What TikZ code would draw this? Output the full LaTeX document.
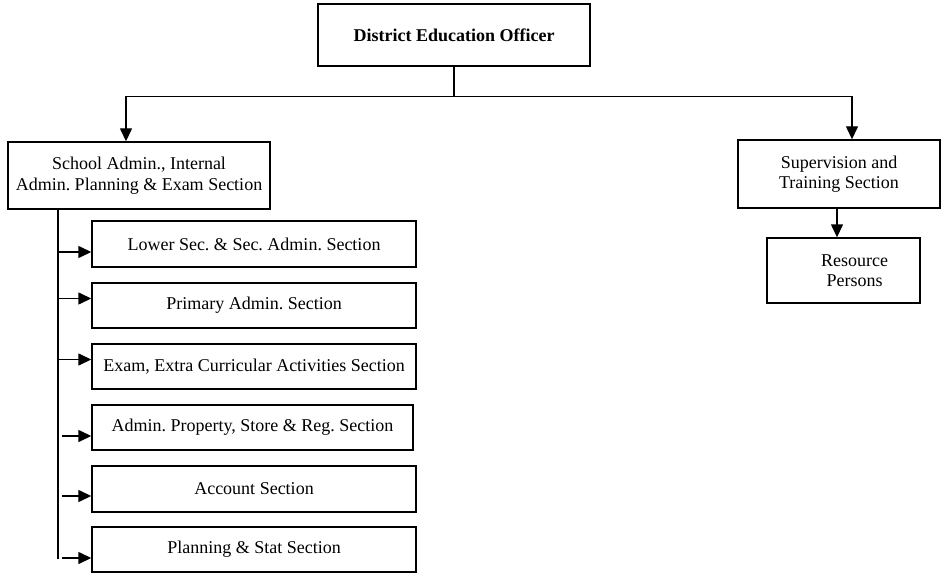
\documentclass[tikz,border=0pt]{standalone}
\usepackage{fontspec}
\setmainfont{Liberation Serif}
\usepackage{tikz}
\usetikzlibrary{arrows.meta,calc,positioning}
\frenchspacing
\tikzset{
  unit/.style={draw, line width=1.4pt, inner sep=0pt, align=center, font=\fontsize{18}{20.5}\selectfont},
  arr/.style={-{Triangle[length=13pt,width=12pt]}},
}

\begin{document}
\begin{tikzpicture}[x=1pt,y=-1pt,line width=1.4pt]
\useasboundingbox (0,0) rectangle (942,575);
\node[unit,minimum width=272,minimum height=62,font=\fontsize{18}{20.5}\selectfont\bfseries] (deo) at (454,35) {District Education Officer};
\node[unit,minimum width=262,minimum height=67] (school) at (139,175.5) {School Admin., Internal\\Admin. Planning \& Exam Section};
\node[unit,minimum width=202,minimum height=68] (superv) at (839,174) {Supervision and\\Training Section};
\node[unit,minimum width=153,minimum height=65] (resource) at (843.5,270.5) {\hspace*{22pt}Resource\\\hspace*{22pt}Persons};
\node[unit,minimum width=324,minimum height=46] (lower) at (254,244) {Lower Sec. \& Sec. Admin. Section};
\node[unit,minimum width=324,minimum height=45] (primary) at (254,305.5) {Primary Admin. Section};
\node[unit,minimum width=324,minimum height=45] (exam) at (254,366.5) {Exam, Extra Curricular Activities Section};
\node[unit,minimum width=321,minimum height=45] (property) at (252.5,427.5) {Admin. Property, Store \& Reg. Section};
\node[unit,minimum width=324,minimum height=46] (account) at (254,489) {Account Section};
\node[unit,minimum width=324,minimum height=45] (planning) at (254,549.5) {Planning \& Stat Section};
\draw (deo.south) -- ++(0,30) coordinate(bus);
\draw[arr] (bus) -| ([xshift=-13pt]school.north);
\draw[arr] (bus) -| ([xshift=13pt]superv.north);
\draw[arr] ([xshift=-2pt]superv.south) -- ([xshift=-2pt]superv.south |- resource.north);
\draw ([xshift=-81pt]school.south) coordinate(spine) -- ++(0,349);
\foreach \sec/\dy/\gap in {lower/8/0,primary/-7/0,exam/-7/0,property/8.5/4,account/7/4,planning/8.5/4}{
  \coordinate (tip) at ($(\sec.west)+(0,\dy)$);
  \draw[arr] ([xshift=\gap pt]tip -| spine) -- (tip);
}
\end{tikzpicture}
\end{document}
